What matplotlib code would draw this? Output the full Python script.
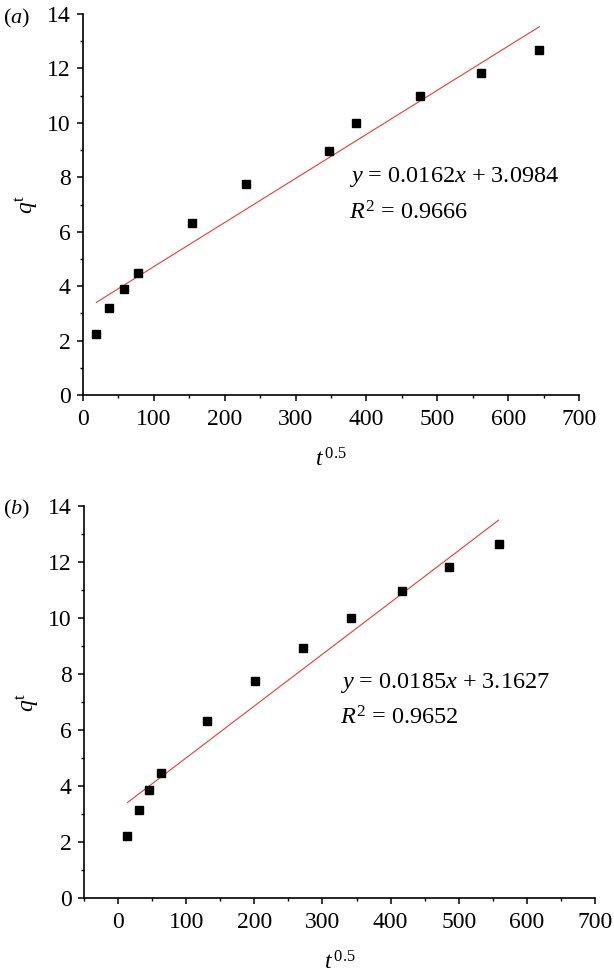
import matplotlib
matplotlib.use("Agg")
import matplotlib.pyplot as plt
from matplotlib.ticker import MultipleLocator

plt.rcParams['font.family'] = ['Liberation Serif', 'DejaVu Serif']
plt.rcParams['mathtext.fontset'] = 'custom'
plt.rcParams['mathtext.rm'] = 'Liberation Serif'
plt.rcParams['mathtext.it'] = 'Liberation Serif:italic'

# Panel (a)
xa = [18.8, 36.2, 57.4, 77.1, 153.7, 229.9, 346.5, 385.5, 474.9, 562.3, 644.1]
qa = [2.24, 3.18, 3.88, 4.47, 6.33, 7.76, 8.96, 10.01, 10.97, 11.85, 12.67]
slope_a, icpt_a = 0.0162, 3.0984
eq_a = ["$y$ = 0.0162$x$ + 3.0984", "$R^{2}$ = 0.9666"]

# Panel (b)
xb = [13.8, 30.0, 45.1, 62.7, 130.7, 201.2, 271.7, 341.2, 416.6, 485.6, 558.6]
qb = [2.23, 3.16, 3.87, 4.46, 6.33, 7.75, 8.94, 10.01, 10.96, 11.84, 12.66]
slope_b, icpt_b = 0.0185, 3.1627
eq_b = ["$y$ = 0.0185$x$ + 3.1627", "$R^{2}$ = 0.9652"]

W, H = 614, 977
fig = plt.figure(figsize=(W/100, H/100), dpi=100)

def px_axes(l, t, r, b):
    return fig.add_axes([l/W, 1-b/H, (r-l)/W, (b-t)/H])

ax_a = px_axes(83, 14, 579, 395)
ax_b = px_axes(84, 506, 595, 898.3)

def style(ax, x0, x1, xs, qs, m, c, eq, tx, ty1, ty2):
    ax.plot([xs[0], xs[-1]], [m*xs[0]+c, m*xs[-1]+c], color='#e83a3a', lw=0.8, zorder=2)
    ax.plot(xs, qs, 's', color='black', ms=5.2, zorder=3, clip_on=False)
    ax.set_xlim(x0, x1)
    ax.set_ylim(0, 14)
    ax.xaxis.set_major_locator(MultipleLocator(100))
    ax.xaxis.set_minor_locator(MultipleLocator(50))
    ax.yaxis.set_major_locator(MultipleLocator(2))
    ax.yaxis.set_minor_locator(MultipleLocator(1))
    for s in ['top', 'right']:
        ax.spines[s].set_visible(False)
    for s in ['left', 'bottom']:
        ax.spines[s].set_linewidth(1.2)
    ax.tick_params(which='major', direction='out', length=4, width=1.1, labelsize=17)
    ax.tick_params(axis='x', which='major', pad=6)
    ax.tick_params(axis='y', which='major', pad=5)
    ax.tick_params(which='minor', direction='out', length=2.5, width=1.0)
    ax.set_ylabel('$q^{\\mathrm{t}}$', fontsize=17, labelpad=5)
    ax.set_xlabel('$t^{\\,0.5}$', fontsize=17, labelpad=13)
    ax.text(tx, ty1, eq[0], fontsize=17.5, ha='left', va='baseline')
    ax.text(tx, ty2, eq[1], fontsize=17.5, ha='left', va='baseline')
    ax.patch.set_alpha(0)

style(ax_a, 0, 700, xa, qa, slope_a, icpt_a, eq_a, 375, 7.84, 6.45)
style(ax_b, -50, 700, xb, qb, slope_b, icpt_b, eq_b, 326, 7.5, 6.19)

fig.text(3/W, 1-23/H, '($a$)', fontsize=16, ha='left', va='baseline')
fig.text(3/W, 1-514/H, '($b$)', fontsize=16, ha='left', va='baseline')

fig.savefig('out.png', dpi=100)
